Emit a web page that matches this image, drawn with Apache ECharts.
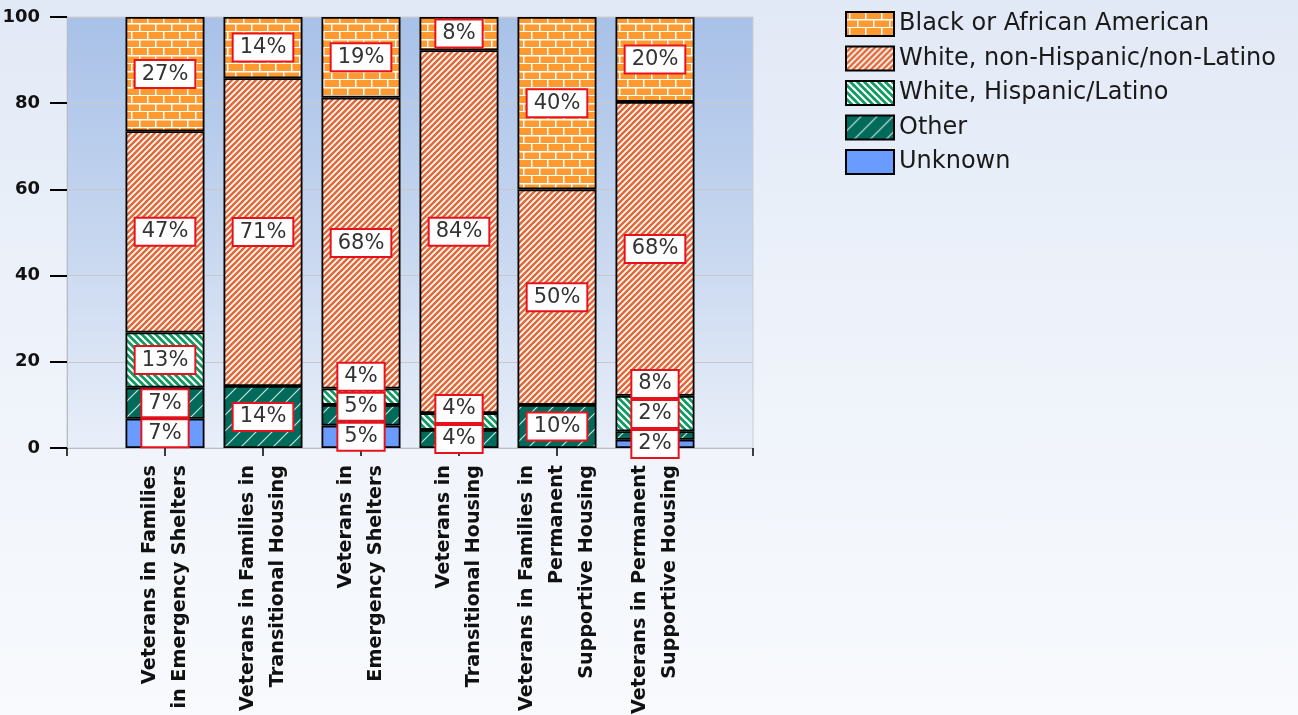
<!DOCTYPE html>
<html><head><meta charset="utf-8">
<script src="https://cdn.jsdelivr.net/npm/echarts@6/dist/echarts.min.js"></script>
<style>
html,body{margin:0;padding:0;width:1298px;height:715px;overflow:hidden;
background:linear-gradient(180deg,#e2e9f6 0%,#edf2fa 45%,#f8fafd 100%);}
#c{width:1298px;height:715px;}
</style></head>
<body><div id="c"></div>
<script>
// ---- data ----
const categories = [
  'Veterans in Families\nin Emergency Shelters',
  'Veterans in Families in\nTransitional Housing',
  'Veterans in\nEmergency Shelters',
  'Veterans in\nTransitional Housing',
  'Veterans in Families in\nPermanent\nSupportive Housing',
  'Veterans in Permanent\nSupportive Housing'
];
const seriesNames = ['Unknown', 'Other', 'White, Hispanic/Latino', 'White, non-Hispanic/non-Latino', 'Black or African American'];
const unknownVals = [6.8, null, 5.2, null, null, 1.9];
const otherVals   = [7.2, 14.4, 4.8, 4.2, 10, 2.0];
const hispVals    = [12.8, null, 3.8, 3.9, null, 8.2];
const whiteVals   = [46.7, 71.4, 67.5, 84.2, 50, 68.2];
const blackVals   = [26.5, 14.2, 18.7, 7.7, 40, 19.7];
const yTicks = [0, 20, 40, 60, 80, 100];
const legendOrder = ['Black or African American', 'White, non-Hispanic/non-Latino', 'White, Hispanic/Latino', 'Other', 'Unknown'];

// ---- patterns ----
function tile(w, h, draw) {
  const c = document.createElement('canvas'); c.width = w; c.height = h;
  const g = c.getContext('2d'); draw(g, w, h); return {image: c, repeat: 'repeat'};
}
function diag(g, s, dir) {
  const lines = dir > 0
    ? [[-1, 1, 1, -1], [0, s, s, 0], [s - 1, s + 1, s + 1, s - 1]]
    : [[-1, s - 1, 1, s + 1], [0, 0, s, s], [s - 1, -1, s + 1, 1]];
  lines.forEach(l => { g.beginPath(); g.moveTo(l[0], l[1]); g.lineTo(l[2], l[3]); g.stroke(); });
}
const brick = tile(16, 16, (g, w, h) => {
  g.fillStyle = '#ff9a30'; g.fillRect(0, 0, w, h);
  g.fillStyle = '#ffffff';
  g.fillRect(0, 7, w, 1.5); g.fillRect(0, 15, w, 1.5);
  g.fillRect(3, 0, 1.5, 7); g.fillRect(11, 8, 1.5, 7);
});
const whiteStripe = tile(6, 6, (g, s) => {
  g.fillStyle = '#ffffff'; g.fillRect(0, 0, s, s);
  g.strokeStyle = '#e06a3a'; g.lineWidth = 2.6; diag(g, s, 1);
});
const hispStripe = tile(7, 7, (g, s) => {
  g.fillStyle = '#0f9a62'; g.fillRect(0, 0, s, s);
  g.strokeStyle = '#ffffff'; g.lineWidth = 2.2; diag(g, s, -1);
});
const otherStripe = tile(16, 16, (g, s) => {
  g.fillStyle = '#006a5b'; g.fillRect(0, 0, s, s);
  g.strokeStyle = 'rgba(255,255,255,0.8)'; g.lineWidth = 1.2; diag(g, s, 1);
});
const fills = ['#6a9cff', otherStripe, hispStripe, whiteStripe, brick];

const valueSets = [unknownVals, otherVals, hispVals, whiteVals, blackVals];
const xData = [''].concat(categories, ['']);
const padded = valueSets.map(a => [null].concat(a, [null]));

function labelPlace(p) {
  const s = p.seriesIndex, i = p.dataIndex;
  const v = padded[s][i];
  if (v == null || !p.rect || !p.rect.height) return {};
  const ppu = p.rect.height / v;
  let below = 0;
  for (let k = 0; k < s; k++) below += padded[k][i] || 0;
  const base = p.rect.y + p.rect.height + below * ppu;
  const h = p.labelRect.height;
  let prevTop = Infinity, pos = 0, cum = 0;
  for (let k = 0; k <= s; k++) {
    const vk = padded[k][i];
    if (vk == null) continue;
    const c = base - (cum + vk / 2) * ppu;
    pos = Math.min(c, prevTop - h / 2);
    prevTop = pos - h / 2;
    cum += vk;
  }
  return {dy: pos - (p.rect.y + p.rect.height / 2)};
}

const chart = echarts.init(document.getElementById('c'), null, {renderer: 'canvas'});
const series = seriesNames.map((name, s) => ({
  name: name,
  type: 'bar',
  stack: 'total',
  barWidth: 79,
  data: padded[s].map(v => v == null ? '-' : v),
  itemStyle: {color: fills[s], borderColor: '#000', borderWidth: 1.8},
  label: {
    show: true, position: 'inside',
    formatter: p => Math.round(p.value) + '%',
    fontFamily: 'DejaVu Sans', fontSize: 21, color: '#333', lineHeight: 24,
    backgroundColor: '#fff', borderColor: '#e8121c', borderWidth: 2,
    padding: [1, 6, 1, 6]
  },
  labelLayout: labelPlace,
  emphasis: {disabled: true}
}));

chart.setOption({
  animation: false,
  backgroundColor: 'transparent',
  grid: {
    left: 67, right: 545, top: 17, bottom: 267, show: true,
    outerBoundsMode: 'none', containLabel: false,
    borderColor: '#c9cdd6', borderWidth: 1,
    backgroundColor: new echarts.graphic.LinearGradient(0, 0, 0, 1, [
      {offset: 0, color: '#a8c1e8'}, {offset: 0.5, color: '#c6d6ef'}, {offset: 1, color: '#e9eff9'}
    ])
  },
  legend: {
    orient: 'vertical', left: 840, top: 6,
    data: legendOrder, icon: 'rect',
    itemWidth: 48, itemHeight: 24, itemGap: 8.5,
    textStyle: {fontFamily: 'DejaVu Sans', fontSize: 24, color: '#1a1a1a', lineHeight: 24},
    selectedMode: false
  },
  xAxis: {
    type: 'category', data: xData, boundaryGap: false,
    axisLine: {show: true, lineStyle: {color: '#b8bcc4', width: 1}},
    axisTick: {show: true, interval: 0, length: 8, lineStyle: {color: '#000', width: 1.5}},
    axisLabel: {
      interval: 0, rotate: 90, margin: 17,
      fontFamily: 'DejaVu Sans', fontWeight: 'bold', fontSize: 19.2, lineHeight: 30, color: '#111'
    },
    splitLine: {show: false}
  },
  yAxis: {
    type: 'value', min: yTicks[0], max: yTicks[yTicks.length - 1], interval: yTicks[1] - yTicks[0],
    axisLine: {show: true, lineStyle: {color: '#b8bcc4', width: 1}},
    axisTick: {show: true, length: 17, lineStyle: {color: '#000', width: 2}},
    axisLabel: {margin: 27, fontFamily: 'DejaVu Sans', fontWeight: 'bold', fontSize: 18, color: '#111'},
    splitLine: {show: true, lineStyle: {color: '#c8c8c8', width: 1}}
  },
  series: series
});
</script>
</body></html>
